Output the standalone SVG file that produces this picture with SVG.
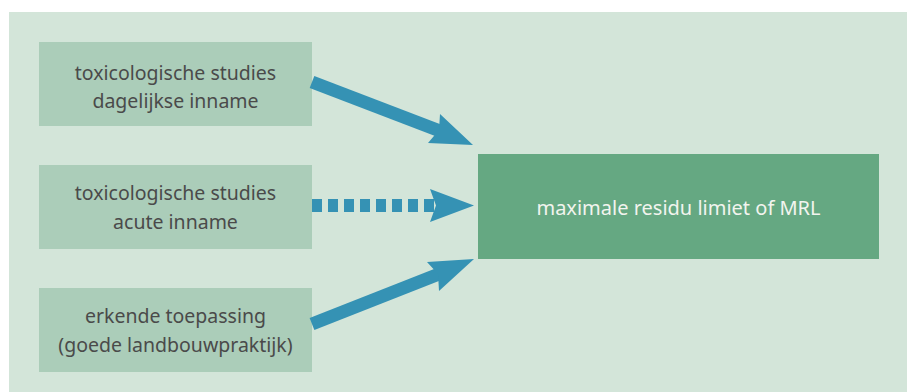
<svg xmlns="http://www.w3.org/2000/svg" width="907" height="392" viewBox="0 0 907 392">
<style>
.src{fill:#abcdb9}
.t{font-family:"Noto Sans","DejaVu Sans",sans-serif;font-size:19.5px;fill:#4a4a4a;text-anchor:middle}
.tw{font-family:"Noto Sans","DejaVu Sans",sans-serif;font-size:20px;fill:#f2f4ee;text-anchor:middle}
.sh{stroke:#3592b4;stroke-width:13;fill:none}
.hd{fill:#3592b4}
</style>
<rect x="0" y="0" width="907" height="392" fill="#ffffff"/>
<rect x="9" y="12" width="898" height="380" fill="#d3e5d9"/>
<g id="node-dagelijks">
<rect class="src" x="39" y="42" width="273" height="84"/>
<text class="t" x="175.5" y="80">toxicologische studies</text>
<text class="t" x="175.5" y="108">dagelijkse inname</text>
</g>
<g id="node-acuut">
<rect class="src" x="39" y="165" width="273" height="84"/>
<text class="t" x="175.5" y="200">toxicologische studies</text>
<text class="t" x="175.5" y="229">acute inname</text>
</g>
<g id="node-gap">
<rect class="src" x="39" y="288" width="273" height="84"/>
<text class="t" x="175.5" y="323">erkende toepassing</text>
<text class="t" x="175.5" y="352">(goede landbouwpraktijk)</text>
</g>
<g id="node-mrl">
<rect x="478" y="154" width="401" height="105" fill="#65a882"/>
<text class="tw" x="678.5" y="215">maximale residu limiet of MRL</text>
</g>
<g id="connectors">
<line class="sh" x1="312" y1="82" x2="440" y2="131"/>
<polygon class="hd" points="473,145 440,114 439,130 428,143"/>
<line class="sh" x1="312" y1="205.5" x2="434" y2="205.5" stroke-width="10.5" stroke-dasharray="10 6"/>
<polygon class="hd" points="474,205.5 430,189 436,205.5 430,222"/>
<line class="sh" x1="312" y1="324" x2="439" y2="274"/>
<polygon class="hd" points="474,259 427,262 438,274 439,291"/>
</g>
</svg>
